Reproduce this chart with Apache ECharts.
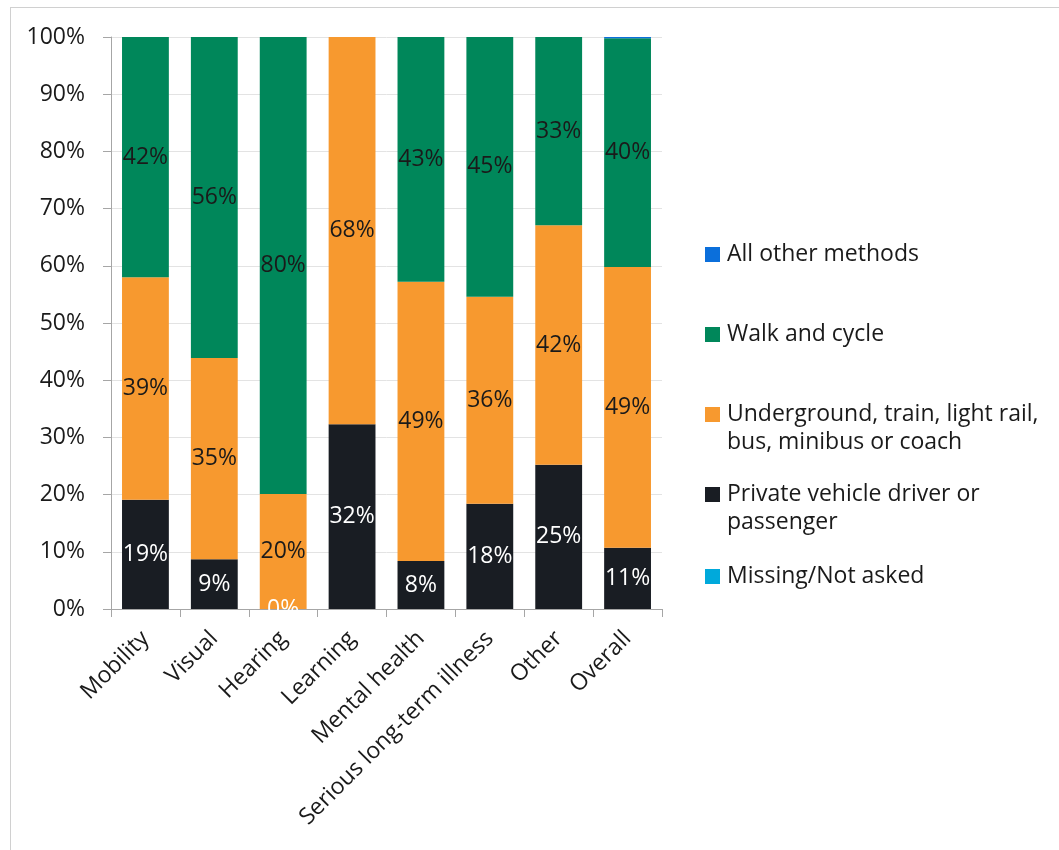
<!DOCTYPE html>
<html>
<head>
<meta charset="utf-8">
<title>Travel method by impairment</title>
<script src="https://cdn.jsdelivr.net/npm/echarts@6/dist/echarts.min.js"></script>
<style>
  html, body { margin: 0; padding: 0; background: #fff; }
  #frame {
    position: absolute; left: 10px; top: 7px; width: 1049px; height: 843px;
    border-top: 1px solid #d0d0d0; border-left: 1px solid #d0d0d0;
  }
  #chart { position: absolute; left: 0; top: 0; width: 1059px; height: 850px; }
</style>
</head>
<body>
<div id="frame"></div>
<div id="chart"></div>
<script>
  // categories and values (percent)
  const categories = ['Mobility', 'Visual', 'Hearing', 'Learning', 'Mental health', 'Serious long-term illness', 'Other', 'Overall']
  const missingNotAsked = [0, 0, 0, 0, 0, 0, 0, 0]
  const privateVehicle = [19.1, 8.7, 0, 32.3, 8.4, 18.4, 25.2, 10.7]
  const publicTransport = [38.9, 35.2, 20.1, 67.7, 48.8, 36.2, 41.9, 49.1]
  const walkCycle = [42.0, 56.1, 79.9, 0, 42.8, 45.4, 32.9, 40.0]
  const allOther = [0, 0, 0, 0, 0, 0, 0, 0.2]
  const yTicks = ['0%', '10%', '20%', '30%', '40%', '50%', '60%', '70%', '80%', '90%', '100%']

  const FONT = '"Open Sans", "Noto Sans", sans-serif'
  const FS = 23
  const colors = {
    missing: '#00a9db',
    private: '#191d23',
    public: '#f7992f',
    walk: '#00875a',
    other: '#0b6fdb'
  }

  // which zero values still get a label (Excel showed 0% for Hearing/private)
  const showZero = { private: [2] }

  function makeSeries(name, data, color, key, labelColor) {
    return {
      name: name,
      type: 'bar',
      stack: 'total',
      data: data,
      barCategoryGap: '32%',
      itemStyle: { color: color },
      label: {
        show: true,
        position: 'inside',
        color: labelColor,
        fontFamily: FONT,
        fontSize: FS,
        formatter: function (p) {
          if (p.value === 0 && !(showZero[key] && showZero[key].indexOf(p.dataIndex) >= 0)) return ''
          if (p.value < 1 && p.value !== 0) return ''
          return Math.round(p.value) + '%'
        }
      }
    }
  }

  const legendItems = [
    { name: 'All other methods', top: 238 },
    { name: 'Walk and cycle', top: 318 },
    { name: 'Underground, train, light rail,', top: 398 },
    { name: 'Private vehicle driver or', top: 478 },
    { name: 'Missing/Not asked', top: 560 }
  ]

  const option = {
    animation: false,
    grid: { left: 111, right: 397, top: 37, bottom: 241 },
    legend: legendItems.map(function (it) {
      return {
        data: [it.name],
        left: 700,
        top: it.top,
        orient: 'vertical',
        itemWidth: 15,
        itemHeight: 15,
        itemGap: 0,
        icon: 'rect',
        selectedMode: false,
        textStyle: { fontFamily: FONT, fontSize: FS, color: '#1a1a1a', padding: [0, 0, 0, 2] }
      }
    }),
    graphic: [
      { type: 'text', left: 727, top: 431, style: { text: 'bus, minibus or coach', fontFamily: FONT, fontSize: FS, fill: '#1a1a1a' } },
      { type: 'text', left: 727, top: 511, style: { text: 'passenger', fontFamily: FONT, fontSize: FS, fill: '#1a1a1a' } }
    ],
    xAxis: {
      type: 'category',
      data: categories,
      axisLine: { lineStyle: { color: '#a6a6a6', width: 1 } },
      axisTick: { show: true, length: 8, lineStyle: { color: '#a6a6a6' } },
      axisLabel: {
        rotate: 45,
        interval: 0,
        margin: 26,
        fontFamily: FONT,
        fontSize: FS,
        color: '#1a1a1a'
      }
    },
    yAxis: {
      type: 'value',
      min: 0,
      max: 100,
      interval: 10,
      axisLine: { show: true, lineStyle: { color: '#a6a6a6', width: 1 } },
      axisTick: { show: true, length: 8, lineStyle: { color: '#a6a6a6' } },
      splitLine: { lineStyle: { color: '#e3e3e3', width: 1 } },
      axisLabel: {
        margin: 26,
        fontFamily: FONT,
        fontSize: FS,
        color: '#1a1a1a',
        formatter: function (v) { return yTicks[Math.round(v / 10)] }
      }
    },
    series: [
      makeSeries('Missing/Not asked', missingNotAsked, colors.missing, 'missing', '#ffffff'),
      makeSeries('Private vehicle driver or', privateVehicle, colors.private, 'private', '#ffffff'),
      makeSeries('Underground, train, light rail,', publicTransport, colors.public, 'public', '#1a1a1a'),
      makeSeries('Walk and cycle', walkCycle, colors.walk, 'walk', '#1a1a1a'),
      makeSeries('All other methods', allOther, colors.other, 'other', '#1a1a1a')
    ]
  }

  const myChart = echarts.init(document.getElementById('chart'))
  myChart.setOption(option, true)
</script>
</body>
</html>
